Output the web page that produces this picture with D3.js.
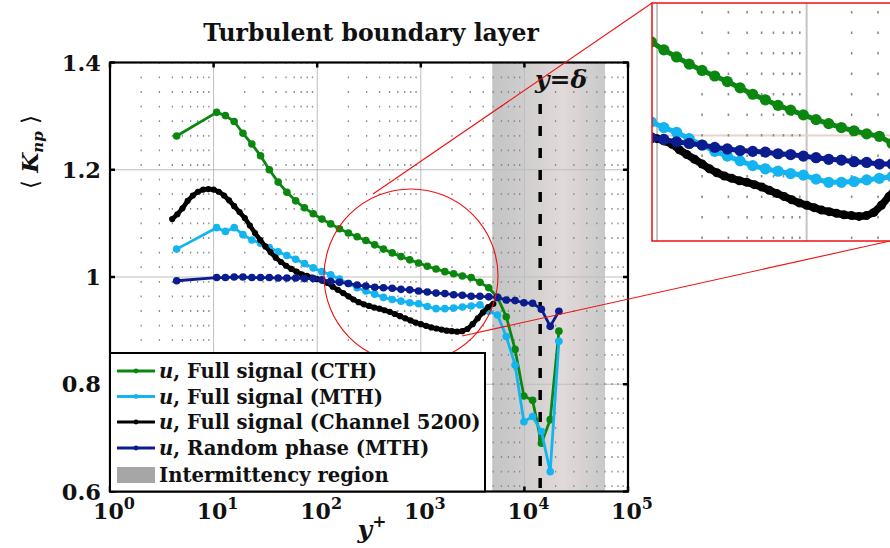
<!DOCTYPE html>
<html><head><meta charset="utf-8">
<script src="https://cdn.jsdelivr.net/npm/d3@7"></script>
<style>
body{margin:0;background:#fff;}
svg{display:block;}
text{font-family:"DejaVu Serif",serif;font-weight:bold;fill:#111;}
</style>
</head><body>
<svg id="chart" width="890" height="548"></svg>
<script>
// ---------------- DATA ----------------
// wall-normal positions y+ of the hot-wire measurements (CTH / MTH)
const yPlusHW = [4.4, 10.7, 13.0, 15.8, 19.2, 23.4, 28.4, 34.5, 42.0, 51.0, 62.0, 75.3, 91.6,
  111, 135, 164, 200, 243, 295, 359, 436, 530, 644, 782, 951, 1156, 1404, 1707, 2075, 2520,
  3063, 3724, 4527, 5500, 6683, 8128, 9886, 12000, 14590, 17740, 21530];
const fullCTH = [1.263, 1.307, 1.301, 1.290, 1.268, 1.248, 1.226, 1.200, 1.177, 1.158, 1.142, 1.129, 1.118,
  1.108, 1.099, 1.090, 1.082, 1.075, 1.068, 1.060, 1.052, 1.045, 1.038, 1.032, 1.026, 1.020, 1.015, 1.010, 1.006, 1.002,
  0.999, 0.990, 0.980, 0.962, 0.926, 0.865, 0.778, 0.770, 0.690, 0.734, 0.899];
const fullMTH = [1.052, 1.092, 1.085, 1.092, 1.079, 1.069, 1.063, 1.055, 1.047, 1.040, 1.033, 1.025, 1.017,
  1.010, 1.004, 0.996, 0.988, 0.980, 0.974, 0.968, 0.962, 0.958, 0.955, 0.952, 0.950, 0.945, 0.941, 0.941, 0.942, 0.944,
  0.946, 0.948, 0.936, 0.929, 0.889, 0.836, 0.730, 0.740, 0.712, 0.637, 0.880];
const randomMTH = [0.993, 0.999, 0.999, 1.000, 1.000, 0.999, 0.999, 0.999, 0.998, 0.998, 0.998, 0.997, 0.997,
  0.995, 0.992, 0.990, 0.988, 0.985, 0.983, 0.981, 0.980, 0.979, 0.977, 0.976, 0.974, 0.972, 0.970, 0.969, 0.967, 0.966,
  0.964, 0.964, 0.963, 0.962, 0.957, 0.956, 0.952, 0.951, 0.940, 0.908, 0.936];
// channel flow DNS (Re_tau = 5200)
const yPlusCh = [3.98, 4.47, 5.01, 5.62, 6.31, 7.08, 7.94, 8.91, 10.0, 11.2, 12.6, 14.1, 15.8, 17.8, 20.0,
  22.4, 25.1, 28.2, 31.6, 35.5, 39.8, 44.7, 50.1, 56.2, 63.1, 70.8, 79.4, 89.1, 100, 112, 126, 141, 158, 178,
  200, 224, 251, 282, 316, 355, 398, 447, 501, 562, 631, 708, 794, 891, 1000, 1122, 1259, 1413, 1585, 1778,
  1995, 2239, 2512, 2818, 3162, 3548, 3981, 4467, 5012];
const channel5200 = [1.108, 1.117, 1.128, 1.142, 1.152, 1.159, 1.163, 1.164, 1.163, 1.159, 1.152, 1.143, 1.132, 1.121, 1.110,
  1.096, 1.082, 1.069, 1.057, 1.046, 1.036, 1.028, 1.021, 1.015, 1.010, 1.005, 1.002, 0.999, 0.996, 0.993, 0.989, 0.982, 0.976, 0.970,
  0.964, 0.958, 0.953, 0.949, 0.946, 0.943, 0.941, 0.938, 0.935, 0.931, 0.927, 0.923, 0.919, 0.915, 0.912, 0.909, 0.906, 0.904, 0.902, 0.900,
  0.899, 0.898, 0.899, 0.903, 0.912, 0.923, 0.934, 0.944, 0.950];
const seriesNames = ["Full signal (CTH)", "Full signal (MTH)", "Full signal (Channel 5200)", "Random phase (MTH)"];
const seriesColors = ["#0b870f", "#14b4f0", "#000000", "#0a1c8e"];
const intermittencyRange = [4900, 60000];
const deltaPlus = 14200;
const xTickExps = [0, 1, 2, 3, 4, 5];
const yTickValues = [0.6, 0.8, 1.0, 1.2, 1.4];
const yTickLabels = ["0.6", "0.8", "1", "1.2", "1.4"];
const insetXDomain = [92.5, 3665];
const insetYDomain = [0.867, 1.167];

// ---------------- SETUP ----------------
const svg = d3.select("#chart");
const M = {l: 110, r: 628, t: 62.5, b: 491.5};
const x = d3.scaleLog().domain([1, 1e5]).range([M.l, M.r]);
const y = d3.scaleLinear().domain([0.6, 1.4]).range([M.b, M.t]);

const seriesData = [
  {xs: yPlusHW, ys: fullCTH},
  {xs: yPlusHW, ys: fullMTH},
  {xs: yPlusCh, ys: channel5200, dense: true},
  {xs: yPlusHW, ys: randomMTH}
].map((s, i) => ({name: seriesNames[i], color: seriesColors[i], dense: !!s.dense,
  pts: s.xs.map((v, j) => [v, s.ys[j]])}));

const defs = svg.append("defs");
const grad = defs.append("linearGradient").attr("id", "shade").attr("x1", "0").attr("x2", "1").attr("y1", "0").attr("y2", "0");
[[0, "#c4c4c4"], [0.3, "#d0cece"], [0.62, "#e2d9d9"], [1, "#c9c9c9"]].forEach(([o, c]) =>
  grad.append("stop").attr("offset", o).attr("stop-color", c));
defs.append("clipPath").attr("id", "plotclip").append("rect")
  .attr("x", M.l).attr("y", M.t).attr("width", M.r - M.l).attr("height", M.b - M.t);

const plot = svg.append("g").attr("clip-path", "url(#plotclip)");

// intermittency shading
plot.append("rect").attr("x", x(intermittencyRange[0])).attr("y", M.t)
  .attr("width", x(intermittencyRange[1]) - x(intermittencyRange[0])).attr("height", M.b - M.t)
  .attr("fill", "url(#shade)");

// major grid
const majorX = xTickExps.map(e => Math.pow(10, e));
plot.selectAll(".gx").data(majorX).join("line")
  .attr("x1", d => x(d)).attr("x2", d => x(d)).attr("y1", M.t).attr("y2", M.b)
  .attr("stroke", "#bdbdbd").attr("stroke-width", 1);
plot.selectAll(".gy").data(yTickValues).join("line")
  .attr("x1", M.l).attr("x2", M.r).attr("y1", d => y(d)).attr("y2", d => y(d))
  .attr("stroke", "#bdbdbd").attr("stroke-width", 1);
// minor dotted grid
const minorX = [];
for (let e = 0; e < 5; e++) for (let m = 2; m <= 9; m++) minorX.push(m * Math.pow(10, e));
plot.selectAll(".mx").data(minorX).join("line")
  .attr("x1", d => x(d)).attr("x2", d => x(d)).attr("y1", M.t).attr("y2", M.b)
  .attr("stroke", "#8a8a8a").attr("stroke-width", 1.3).attr("stroke-dasharray", "1.8,12.8")
  .attr("stroke-dashoffset", -14);

// delta line
plot.append("line").attr("x1", x(deltaPlus)).attr("x2", x(deltaPlus)).attr("y1", 104).attr("y2", M.b)
  .attr("stroke", "#000").attr("stroke-width", 3.5).attr("stroke-dasharray", "10,12");

// data
function drawSeries(g, sx, sy, lw, r, lwDense, rDense) {
  seriesData.forEach(s => {
    const line = d3.line().x(d => sx(d[0])).y(d => sy(d[1]));
    g.append("path").datum(s.pts).attr("d", line).attr("fill", "none")
      .attr("stroke", s.color).attr("stroke-width", s.dense ? lwDense : lw).attr("stroke-linejoin", "round");
    g.selectAll(null).data(s.pts).join("circle")
      .attr("cx", d => sx(d[0])).attr("cy", d => sy(d[1])).attr("r", s.dense ? rDense : r).attr("fill", s.color);
  });
}
drawSeries(plot, x, y, 2.8, 3.8, 4.6, 3.1);

// axes frame + ticks
const ax = svg.append("g");
ax.selectAll(".tb").data(majorX).join("line")
  .attr("x1", d => x(d)).attr("x2", d => x(d)).attr("y1", M.b).attr("y2", M.b - 5)
  .attr("stroke", "#000").attr("stroke-width", 2.5);
ax.selectAll(".tt").data(majorX).join("line")
  .attr("x1", d => x(d)).attr("x2", d => x(d)).attr("y1", M.t).attr("y2", M.t + 5)
  .attr("stroke", "#000").attr("stroke-width", 2.5);
ax.selectAll(".tl").data(yTickValues).join("line")
  .attr("x1", M.l).attr("x2", M.l + 5).attr("y1", d => y(d)).attr("y2", d => y(d))
  .attr("stroke", "#000").attr("stroke-width", 2.5);
ax.selectAll(".tr").data(yTickValues).join("line")
  .attr("x1", M.r).attr("x2", M.r - 5).attr("y1", d => y(d)).attr("y2", d => y(d))
  .attr("stroke", "#000").attr("stroke-width", 2.5);

// y = delta label
const dl = svg.append("text").attr("x", 561).attr("y", 88).attr("text-anchor", "middle").attr("font-size", 25);
dl.append("tspan").attr("font-style", "italic").text("y");
dl.append("tspan").text("=");
dl.append("tspan").attr("font-style", "italic").text("δ");

// legend
const lg = svg.append("g");
lg.append("rect").attr("x", M.l).attr("y", 353).attr("width", 375).attr("height", M.b - 353)
  .attr("fill", "#fff").attr("stroke", "#000").attr("stroke-width", 2);
const rowY = [371, 396.5, 422, 448, 475];
seriesData.forEach((s, i) => {
  lg.append("line").attr("x1", 117).attr("x2", 155).attr("y1", rowY[i]).attr("y2", rowY[i])
    .attr("stroke", s.color).attr("stroke-width", 3);
  lg.append("circle").attr("cx", 136).attr("cy", rowY[i]).attr("r", 2.4).attr("fill", s.color);
  const t = lg.append("text").attr("x", 159).attr("y", rowY[i] + 7).attr("font-size", 19.6);
  t.append("tspan").attr("font-style", "italic").text("u");
  t.append("tspan").text(", " + s.name);
});
lg.append("rect").attr("x", 117).attr("y", rowY[4] - 8).attr("width", 38).attr("height", 16).attr("fill", "#a6a6a6");
lg.append("text").attr("x", 159).attr("y", rowY[4] + 7).attr("font-size", 19.6).text("Intermittency region");

// frame
svg.append("rect").attr("x", M.l).attr("y", M.t).attr("width", M.r - M.l).attr("height", M.b - M.t)
  .attr("fill", "none").attr("stroke", "#000").attr("stroke-width", 2.2);

// tick labels
xTickExps.forEach(e => {
  const t = svg.append("text").attr("x", x(Math.pow(10, e)) + 4).attr("y", 519).attr("text-anchor", "middle").attr("font-size", 22);
  t.append("tspan").text("10");
  t.append("tspan").attr("dy", -10).attr("font-size", 16).text(e);
});
yTickValues.forEach((v, i) => {
  svg.append("text").attr("x", 101).attr("y", y(v) + 8).attr("text-anchor", "end").attr("font-size", 22.5).text(yTickLabels[i]);
});

// axis labels
const xl = svg.append("text").attr("x", 372).attr("y", 538).attr("text-anchor", "middle").attr("font-size", 25);
xl.append("tspan").attr("font-style", "italic").text("y");
xl.append("tspan").attr("dy", -11).attr("font-size", 17).text("+");
const yl = svg.append("text").attr("transform", "translate(38,152) rotate(-90)").attr("text-anchor", "middle").attr("font-size", 23);
yl.append("tspan").attr("font-weight", "normal").text("⟨ ");
yl.append("tspan").attr("font-style", "italic").text("K");
yl.append("tspan").attr("font-style", "italic").attr("font-size", 15).attr("dy", 5).text("np");
yl.append("tspan").attr("font-weight", "normal").attr("dy", -5).text(" ⟩");

// title
svg.append("text").attr("x", 371).attr("y", 41).attr("text-anchor", "middle").attr("font-size", 23.5).text("Turbulent boundary layer");

// zoom indicator
const cx = 411, cy = 276, cr = 87;
svg.append("circle").attr("cx", cx).attr("cy", cy).attr("r", cr).attr("fill", "none").attr("stroke", "#f01010").attr("stroke-width", 1.1);
lg.raise();
svg.append("line").attr("x1", 373).attr("y1", 194).attr("x2", 652).attr("y2", 3).attr("stroke", "#f01010").attr("stroke-width", 1.1);
svg.append("line").attr("x1", 462).attr("y1", 336).attr("x2", 890).attr("y2", 241).attr("stroke", "#f01010").attr("stroke-width", 1.1);

// inset
const IN = {l: 652, r: 891, t: 3, b: 241};
const xi = d3.scaleLog().domain(insetXDomain).range([IN.l, IN.r]);
const yi = d3.scaleLinear().domain(insetYDomain).range([IN.b, IN.t]);
defs.append("clipPath").attr("id", "insetclip").append("rect")
  .attr("x", IN.l).attr("y", IN.t).attr("width", IN.r - IN.l).attr("height", IN.b - IN.t);
const ins = svg.append("g").attr("clip-path", "url(#insetclip)");
ins.append("rect").attr("x", IN.l).attr("y", IN.t).attr("width", IN.r - IN.l).attr("height", IN.b - IN.t).attr("fill", "#fff");
ins.selectAll(".igx").data(majorX).join("line")
  .attr("x1", d => xi(d)).attr("x2", d => xi(d)).attr("y1", IN.t).attr("y2", IN.b)
  .attr("stroke", "#c4c4c4").attr("stroke-width", 2);
ins.append("line").attr("x1", IN.l).attr("x2", IN.r).attr("y1", yi(1)).attr("y2", yi(1))
  .attr("stroke", "#e6d2cc").attr("stroke-width", 2);
ins.selectAll(".imx").data(minorX).join("line")
  .attr("x1", d => xi(d)).attr("x2", d => xi(d)).attr("y1", IN.t).attr("y2", IN.b)
  .attr("stroke", "#8a8a8a").attr("stroke-width", 1.6).attr("stroke-dasharray", "2.5,18")
  .attr("stroke-dashoffset", -8);
drawSeries(ins, xi, yi, 5, 5.6, 7.5, 4.5);
svg.append("rect").attr("x", IN.l).attr("y", IN.t).attr("width", IN.r - IN.l).attr("height", IN.b - IN.t)
  .attr("fill", "none").attr("stroke", "#f01010").attr("stroke-width", 1.5);
</script>
</body></html>
